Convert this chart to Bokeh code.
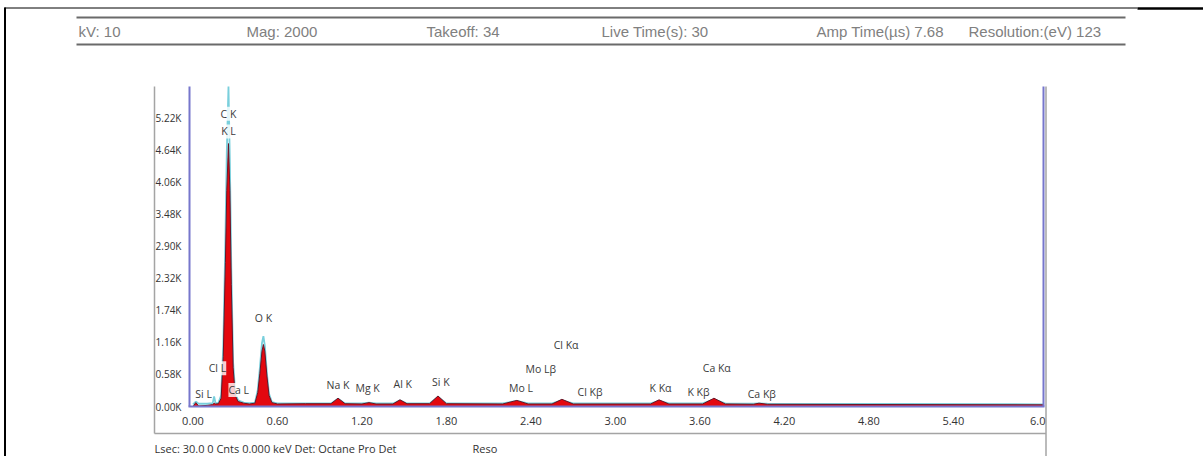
from bokeh.plotting import figure
from bokeh.models import Range1d, FixedTicker, Label, LabelSet, ColumnDataSource
from bokeh.core.properties import value
from bokeh.embed import file_html
from bokeh.resources import INLINE

# ---------------- data ----------------
energy_kev = [0.00, 0.02, 0.04, 0.10, 0.14, 0.15, 0.16, 0.18, 0.20, 0.215, 0.23, 0.24,
              0.252, 0.262, 0.272, 0.285, 0.30, 0.32, 0.36, 0.40, 0.44, 0.46, 0.475,
              0.49, 0.50, 0.51, 0.525, 0.54, 0.56, 0.60, 0.80, 0.98, 1.03, 1.08, 1.20,
              1.25, 1.30, 1.42, 1.47, 1.52, 1.68, 1.74, 1.80, 2.20, 2.30, 2.38, 2.55,
              2.62, 2.70, 3.25, 3.31, 3.38, 3.62, 3.70, 3.78, 3.98, 4.02, 4.08, 5.00, 6.04]
counts_red = [0, 70, 10, 20, 35, 60, 45, 50, 150, 900, 2600, 3900,
              4750, 3900, 2200, 700, 200, 90, 60, 45, 60, 250, 600,
              1000, 1120, 1000, 550, 200, 70, 45, 50, 50, 150, 50, 45,
              70, 45, 45, 120, 50, 50, 190, 50, 45, 110, 45, 45,
              130, 45, 45, 120, 45, 45, 150, 45, 40, 60, 40, 35, 30]
counts_cyan = [40, 90, 50, 50, 60, 180, 60, 60, 200, 1100, 3000, 4600,
               5780, 4400, 2500, 800, 250, 110, 70, 60, 70, 300, 700,
               1150, 1270, 1100, 600, 230, 80, 55, 55, 55, 140, 55, 55,
               70, 55, 55, 110, 55, 55, 170, 55, 55, 100, 55, 55,
               110, 55, 55, 100, 55, 55, 130, 55, 50, 55, 50, 45, 40]

peak_names = ["C K", "K L", "O K", "Cl L", "Ca L", "Si L", "Na K", "Mg K", "Al K", "Si K",
              "Mo L", "Mo Lβ", "Cl Kα", "Cl Kβ", "K  Kα", "K  Kβ", "Ca Kα", "Ca Kβ"]
peak_label_kev = [0.252, 0.252, 0.50, 0.174, 0.325, 0.075, 1.03, 1.24, 1.49, 1.76,
                  2.33, 2.47, 2.65, 2.82, 3.33, 3.60, 3.72, 4.04]
peak_label_counts = [5290, 4970, 1590, 690, 300, 230, 380, 340, 400, 450,
                     330, 670, 1120, 270, 340, 270, 700, 230]

x_ticks = [0.0, 0.6, 1.2, 1.8, 2.4, 3.0, 3.6, 4.2, 4.8, 5.4, 6.0]
x_tick_labels = ["0.00", "0.60", "1.20", "1.80", "2.40", "3.00", "3.60", "4.20", "4.80", "5.40", "6.0"]
y_ticks = [0, 580, 1160, 1740, 2320, 2900, 3480, 4060, 4640, 5220]
y_tick_labels = ["0.00K", "0.58K", "1.16K", "1.74K", "2.32K", "2.90K", "3.48K", "4.06K", "4.64K", "5.22K"]
y_top = 5781

header_texts = ["kV:  10", "Mag:  2000", "Takeoff: 34", "Live Time(s): 30",
                "Amp Time(µs)  7.68", "Resolution:(eV) 123"]
footer_texts = ["Lsec: 30.0 0 Cnts  0.000 keV Det: Octane Pro Det", "Reso"]

# ---------------- layout (page pixels) ----------------
W, H = 1203, 456
FL, FR, FT, FB = 189, 1043, 86, 406          # spectrum area edges
PX0, PX_PER_KEV = 192.5, 140.8               # 0 keV position, px per keV
PY_PER_COUNT = (FB - FT) / y_top


def kx(px):
    return (px - PX0) / PX_PER_KEV


def cy(py):
    return (FB - py) / PY_PER_COUNT


BLUE = "#7676cc"
GRAY = "#a4a4a4"
FONT = "Open Sans"

# the frame fills the whole canvas; the axes are drawn at fixed locations inside it
p = figure(width=W, height=H, output_backend="svg", toolbar_location=None, title=None,
           x_range=Range1d(kx(0), kx(W)), y_range=Range1d(cy(H), cy(0)),
           min_border_left=0, min_border_right=0, min_border_top=0, min_border_bottom=0)
p.outline_line_color = None
p.grid.visible = False
p.background_fill_color = "white"
p.border_fill_color = "white"

for ax in (p.xaxis[0], p.yaxis[0]):
    ax.axis_line_color = BLUE
    ax.axis_line_width = 2
    ax.major_tick_line_color = None
    ax.minor_tick_line_color = None
    ax.major_label_text_font = FONT
    ax.major_label_text_color = "#333333"

p.xaxis.fixed_location = 0
p.xaxis.bounds = (kx(FL - 1), kx(FR + 1))
p.xaxis.ticker = FixedTicker(ticks=x_ticks)
p.xaxis.major_label_overrides = {t: l for t, l in zip(x_ticks, x_tick_labels)}
p.xaxis.major_label_standoff = 4
p.xaxis.major_label_text_font_size = "11px"
p.yaxis.fixed_location = kx(FL)
p.yaxis.bounds = (0, y_top)
p.yaxis.ticker = FixedTicker(ticks=y_ticks)
p.yaxis.major_label_overrides = {t: l for t, l in zip(y_ticks, y_tick_labels)}
p.yaxis.major_label_standoff = 2
p.yaxis.major_label_text_font_size = "10px"

src = ColumnDataSource(dict(x=energy_kev, red=counts_red, cyan=counts_cyan))
p.line("x", "cyan", source=src, line_color="#79cfdc", line_width=1.8)
p.varea(x="x", y1=0, y2="red", source=src, fill_color="#e3080f")
p.line("x", "red", source=src, line_color="#6b1426", line_width=1)

lab = ColumnDataSource(dict(x=peak_label_kev, y=peak_label_counts, t=peak_names))
p.add_layout(LabelSet(x="x", y="y", text="t", source=lab, text_font=value(FONT),
                      text_font_size=value("10.5px"), text_color=value("#3a3a3a"),
                      text_align="center", text_baseline="middle",
                      background_fill_color=value("white"), background_fill_alpha=0.8))


def seg(x0, y0, x1, y1, color, w):
    p.segment(x0=[kx(x0)], y0=[cy(y0)], x1=[kx(x1)], y1=[cy(y1)], line_color=color, line_width=w)


# right edge of spectrum area
seg(FR, FT, FR, FB, BLUE, 2)
# gray box around chart
seg(154, FT, 154, 433, GRAY, 1.5)
seg(1045.5, FT, 1045.5, H, GRAY, 1.5)
seg(154, 433, 1045.5, 433, GRAY, 1.5)
# header lines
seg(76, 17, 1125, 17, "#6a6a6a", 2)
seg(76, 44, 1125, 44, "#6a6a6a", 2)
# outer black frame
seg(4, 7.5, 1137, 7.5, "#000000", 1)
seg(1137, 8, W, 8, "#000000", 2.5)
seg(4.5, 7, 4.5, H, "#000000", 2)

header_x = [78, 246, 426, 601, 816, 968]
for hx, t in zip(header_x, header_texts):
    p.add_layout(Label(x=kx(hx), y=cy(31), text=t,
                       text_font="Liberation Sans", text_font_size="15px",
                       text_color="#808080", text_baseline="middle", text_align="left"))

footer_x = [154, 472]
for fx, t in zip(footer_x, footer_texts):
    p.add_layout(Label(x=kx(fx), y=cy(448), text=t,
                       text_font=FONT, text_font_size="11px",
                       text_color="#333333", text_baseline="middle", text_align="left"))

open("out.html", "w").write(file_html(p, INLINE))
